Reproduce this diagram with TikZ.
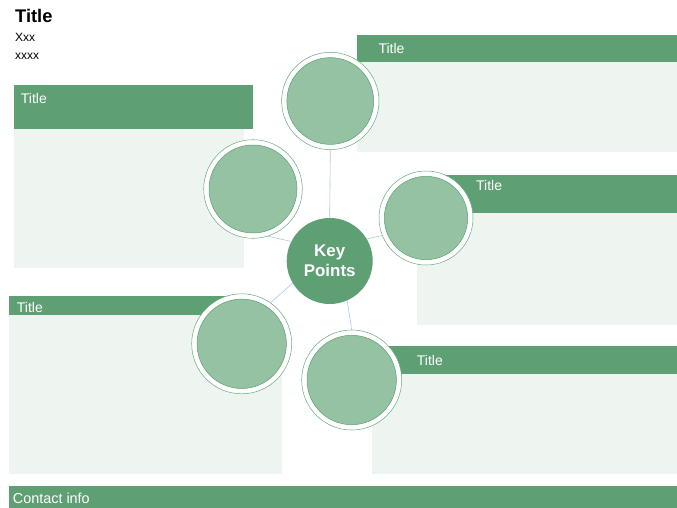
\documentclass[tikz,border=0pt]{standalone}
\usepackage{fontspec}
\setmainfont{Liberation Sans}
\definecolor{hdrgreen}{RGB}{94,160,115}
\definecolor{ringgreen}{RGB}{100,170,125}
\definecolor{dotgreen}{RGB}{148,194,163}
\definecolor{panelbg}{RGB}{238,245,240}
\definecolor{linkblue}{RGB}{170,198,235}

\tikzset{
  panel/.style={fill=panelbg},
  header/.style={fill=hdrgreen},
  hdrtext/.style={anchor=base west, inner sep=0pt, text=white, font=\fontsize{14}{16}\selectfont},
  plaintext/.style={anchor=base west, inner sep=0pt, font=\fontsize{12}{14}\selectfont},
  ring/.style={circle, draw=ringgreen, line width=0.5pt, fill=white, minimum size=2*#1pt,
    inner sep=0pt, outer sep=0pt,
    path picture={\draw[draw=hdrgreen, line width=0.5pt, fill=dotgreen]
      (path picture bounding box.center) circle ({#1pt-5.3pt});}},
  ring/.default=49,
  link/.style={draw=linkblue, line width=0.6pt}
}

\begin{document}
\begin{tikzpicture}[x=1pt,y=-1pt]
  \useasboundingbox (0,0) rectangle (677,508);
  % heading
  \node[plaintext, font=\bfseries\fontsize{18.3}{20}\selectfont] (title) at (15,22.7) {Title};
  \node[plaintext] (sub1) at (15,41.7) {Xxx};
  \node[plaintext] (sub2) at (15,59.3) {xxxx};
  % panels
  \fill[panel] (14,129.3) rectangle (243.7,268.3);
  \fill[header] (14,85) rectangle (253.3,129.3);
  \fill[panel] (356.7,62) rectangle (677,152.3);
  \fill[header] (356.7,35.5) rectangle (677,62);
  \fill[panel] (417.3,212.7) rectangle (677,325);
  \fill[header] (440,175) rectangle (677,212.7);
  \fill[panel] (9,315) rectangle (282,473.5);
  \fill[header] (9,296) rectangle (230,315);
  \fill[panel] (372,374) rectangle (677,474);
  \fill[header] (380,346) rectangle (677,374);
  \fill[header] (8.5,486) rectangle (677,508);
  \node[hdrtext] (t1) at (20.7,103.3) {Title};
  \node[hdrtext] (t2) at (378.3,54) {Title};
  \node[hdrtext] (t3) at (476,190.7) {Title};
  \node[hdrtext] (t4) at (16.7,312.3) {Title};
  \node[hdrtext] (t5) at (416.7,365) {Title};
  \node[hdrtext, font=\fontsize{14.4}{16}\selectfont] (contact) at (12.7,503.3) {Contact info};
  % circles
  \node[circle, fill=hdrgreen, minimum size=86pt, inner sep=0pt, outer sep=0pt, text=white,
    align=center, font=\bfseries\fontsize{16.9}{20}\selectfont] (key) at (329.7,261) {Key\\Points};
  \node[ring=48.7] (top) at (330.3,101) {};
  \node[ring=49.3] (ul) at (253,189) {};
  \node[ring=47] (rt) at (426,218) {};
  \node[ring=50] (ll) at (241.7,343.8) {};
  \node[ring=50] (lr) at (351.7,380) {};
  % connectors
  \draw[link] (key.90) -- (top.270);
  \draw[link] (key.153) -- (ul.287);
  \draw[link] (key.31) -- (rt.202);
  \draw[link] (key.211) -- (ll.55);
  \draw[link] (key.294) -- (lr.90);
\end{tikzpicture}
\end{document}
